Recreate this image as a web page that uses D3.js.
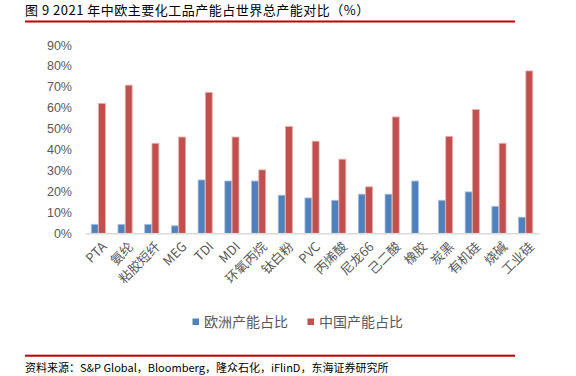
<!DOCTYPE html>
<html><head><meta charset="utf-8">
<script src="https://cdn.jsdelivr.net/npm/d3@7/dist/d3.min.js"></script>
<style>
html,body{margin:0;padding:0;background:#fff;}
svg{display:block;}
</style></head>
<body>
<svg id="c" width="576" height="376"></svg>
<script>
const categories = ["PTA","氨纶","粘胶短纤","MEG","TDI","MDI","环氧丙烷","钛白粉","PVC","丙烯酸","尼龙66","己二酸","橡胶","炭黑","有机硅","烧碱","工业硅"];
const europeShare = [4.3,4.3,4.3,3.6,25.5,25.0,25.0,18.2,16.9,15.8,18.7,18.7,25.0,15.8,19.8,12.9,7.7];
const chinaShare  = [62.0,70.8,43.0,46.0,67.3,46.0,30.3,51.0,44.0,35.4,22.2,55.6,null,46.3,59.1,43.0,77.6];
const seriesNames = ["欧洲产能占比","中国产能占比"];
const yTicks = [0,10,20,30,40,50,60,70,80,90];
const titleText = "图 9 2021 年中欧主要化工品产能占世界总产能对比（%）";
const sourceText = "资料来源：S&P Global，Bloomberg，隆众石化，iFlinD，东海证券研究所";

const colors = ["#4F81BD","#C0504D"];
const strokes = ["#A9C2E2","#E8AAA8"];
const cjk = "'Noto Sans CJK SC', 'Noto Sans', sans-serif";
const lat = "'Liberation Sans', Arial, sans-serif";
const grey = "#595959";

const svg = d3.select("#c");

// title + rules
svg.append("text").attr("x",25).attr("y",14.5).attr("font-family",cjk)
  .attr("font-size",13).attr("letter-spacing",0.5).attr("fill","#000").text(titleText);
svg.append("rect").attr("x",25).attr("y",20.5).attr("width",490).attr("height",2).attr("fill","#C00000");
svg.append("rect").attr("x",25).attr("y",354.7).attr("width",490).attr("height",2).attr("fill","#C00000");
svg.append("text").attr("x",25).attr("y",372).attr("font-family",cjk)
  .attr("font-size",11).attr("fill","#000").text(sourceText);

const left = 85, right = 539, y0 = 233.3, yTop = 45;
const x0 = d3.scaleBand().domain(categories).range([left,right]).paddingInner(0.47).paddingOuter(0.235);
const x1 = d3.scaleBand().domain([0,1]).range([0,x0.bandwidth()]).paddingInner(0.06);
const y = d3.scaleLinear().domain([0,90]).range([y0,yTop]);

// y axis labels
const yAxis = d3.axisLeft(y).tickValues(yTicks).tickFormat(d=>d+"%").tickSize(0).tickPadding(0);
const ya = svg.append("g").attr("transform","translate(72,0)").call(yAxis);
ya.select(".domain").remove();
ya.selectAll("text").attr("font-family",lat).attr("font-size",12.5).attr("fill",grey);

// bars
const series = [europeShare, chinaShare];
series.forEach((vals,si)=>{
  svg.append("g").selectAll("rect").data(categories.map((c,i)=>({c,v:vals[i]})).filter(d=>d.v!=null))
    .join("rect")
    .attr("x",d=>x0(d.c)+x1(si))
    .attr("y",d=>y(d.v))
    .attr("width",x1.bandwidth())
    .attr("height",d=>y0-y(d.v))
    .attr("fill",colors[si])
    .attr("stroke",strokes[si]).attr("stroke-width",0.8);
});

// x axis
const xAxis = d3.axisBottom(x0).tickSize(0).tickPadding(0);
const xa = svg.append("g").attr("transform",`translate(0,${y0})`).call(xAxis);
xa.select(".domain").attr("stroke","#D9D9D9").attr("stroke-width",1.5);
xa.selectAll("text")
  .attr("font-family",cjk).attr("font-size",13).attr("fill",grey)
  .attr("text-anchor","end").attr("dy","0.35em")
  .attr("transform","translate(6,11) rotate(-45)");

// legend
const lg = svg.append("g");
const legendX = [192.5, 307.5];
seriesNames.forEach((n,i)=>{
  lg.append("rect").attr("x",legendX[i]).attr("y",318.5).attr("width",6.5).attr("height",6.5).attr("fill",colors[i]);
  lg.append("text").attr("x",legendX[i]+11.5).attr("y",327).attr("font-family",cjk)
    .attr("font-size",14).attr("fill",grey).text(n);
});
</script>
</body></html>
